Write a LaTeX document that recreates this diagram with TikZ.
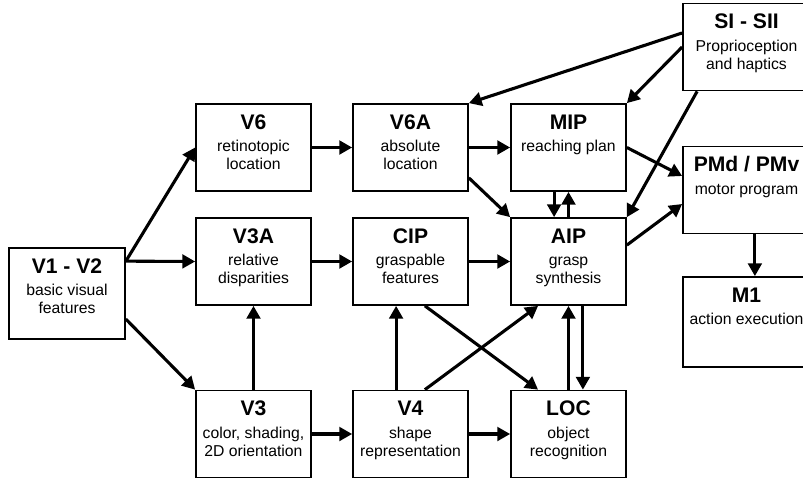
\documentclass[tikz,border=0pt]{standalone}
\usepackage{fontspec}
\setmainfont{Liberation Sans}
\usetikzlibrary{arrows.meta,calc}

\newcommand{\areatext}[3][2.8cm]{\parbox[t]{#1}{\centering\fontsize{15}{18}\selectfont\textbf{#2}\\[3.2pt]\fontsize{11.2}{12.8}\selectfont #3}}

\begin{document}
\begin{tikzpicture}[x=0.025cm, y=-0.025cm,
    area/.style={draw, line width=1.2pt, inner sep=0pt, minimum width=2.875cm, text height=0.63cm, text depth=1.545cm},
    wide/.style={minimum width=3.175cm},
    tall/.style={text depth=1.645cm},
    link/.style={line width=2.2pt, -{Triangle[length=0.32cm, width=0.34cm]}}]
      \useasboundingbox (0,0) rectangle (803,480);
      \clip (0,0) rectangle (803,480);

      \node[area, tall, minimum width=2.9cm] (v1) at (67,293.5) {\areatext{V1 - V2}{basic visual\\features}};
      \node[area] (v6) at (253.5,147.5) {\areatext{V6}{retinotopic\\location}};
      \node[area] (v3a) at (253.5,261.5) {\areatext{V3A}{relative\\disparities}};
      \node[area] (v3) at (253.5,434) {\areatext{V3}{color, shading,\\2D orientation}};
      \node[area] (v6a) at (410.5,147.5) {\areatext{V6A}{absolute\\location}};
      \node[area] (cip) at (410.5,261.5) {\areatext{CIP}{graspable\\features}};
      \node[area] (v4) at (410.5,434) {\areatext{V4}{shape\\representation}};
      \node[area] (mip) at (568.5,147.5) {\areatext{MIP}{reaching plan}};
      \node[area] (aip) at (568.5,261.5) {\areatext{AIP}{grasp\\synthesis}};
      \node[area] (loc) at (568.5,434) {\areatext{LOC}{object\\recognition}};
      \node[area, wide] (si) at (746.5,47) {\areatext[3.1cm]{SI - SII}{Proprioception\\and haptics}};
      \node[area, wide] (pmd) at (746.5,190) {\areatext[3.1cm]{PMd / PMv}{motor program}};
      \node[area, wide, text depth=1.62cm] (m1) at (746.5,322) {\areatext[3.1cm]{M1}{action execution}};

      \draw[link] ([yshift=-0.35cm]v1.north east) -- (v6.west);
      \draw[link] ([yshift=-0.35cm]v1.north east) -- (v3a.west);
      \draw[link] ([yshift=-0.64cm]v1.east) -- (v3.north west);
      \draw[link] (v6.east) -- (v6a.west);
      \draw[link] (v3.north) -- (v3a.south);
      \draw[link] (v3.east) -- (v4.west);
      \draw[link] (v3a.east) -- (cip.west);
      \draw[link] ([xshift=-0.36cm]v4.north) -- ([xshift=-0.36cm]cip.south);
      \draw[link] ([xshift=0.36cm]v4.north) -- ([xshift=-0.76cm]aip.south);
      \draw[link] ([xshift=0.36cm]cip.south) -- ([xshift=-0.76cm]loc.north);
      \draw[link] (v4.east) -- (loc.west);
      \draw[link] (cip.east) -- (aip.west);
      \draw[link] (loc.north) -- (aip.south);
      \draw[link] ([xshift=0.36cm]aip.south) -- ([xshift=0.36cm]loc.north);
      \draw[link] (v6a.east) -- (mip.west);
      \draw[link] ([yshift=0.35cm]v6a.south east) -- (aip.north west);
      \draw[link] ([xshift=-0.36cm]mip.south) -- ([xshift=-0.36cm]aip.north);
      \draw[link] (aip.north) -- (mip.south);
      \draw[link] (mip.east) -- ([yshift=0.35cm]pmd.west);
      \draw[link] ([yshift=0.41cm]aip.east) -- ([yshift=-0.35cm]pmd.west);
      \draw[link] ([yshift=0.35cm]si.west) -- (v6a.north east);
      \draw[link] (si.west) -- (mip.north east);
      \draw[link] ([xshift=0.375cm]si.south west) -- (aip.north east);
      \draw[link] ([xshift=0.21cm]pmd.south) -- ([xshift=0.21cm]m1.north);
\end{tikzpicture}
\end{document}
